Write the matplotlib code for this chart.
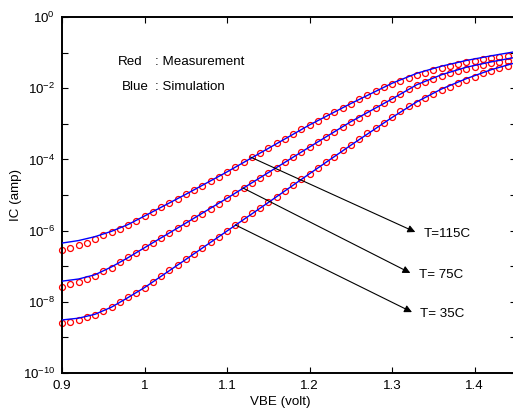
import numpy as np
import matplotlib
matplotlib.use("Agg")
from matplotlib import pyplot as plt

plt.rcParams['font.family'] = ['Liberation Sans', 'DejaVu Sans']
plt.rcParams['mathtext.fontset'] = 'custom'
plt.rcParams['mathtext.rm'] = 'Liberation Sans'
plt.rcParams['mathtext.it'] = 'Liberation Sans'

# measured VBE sweep (volt)
vbe_meas = np.round(np.arange(0.90, 1.4501, 0.01), 2)

# measured log10(IC), one list per temperature
logic_115 = [-6.54, -6.49, -6.40, -6.35, -6.24, -6.12, -6.04, -5.96, -5.84, -5.73,
             -5.59, -5.47, -5.35, -5.23, -5.11, -4.98, -4.86, -4.74, -4.60, -4.49,
             -4.35, -4.21, -4.07, -3.94, -3.81, -3.69, -3.55, -3.42, -3.29, -3.16,
             -3.03, -2.91, -2.79, -2.66, -2.55, -2.43, -2.31, -2.20, -2.09, -1.97,
             -1.87, -1.79, -1.70, -1.63, -1.56, -1.49, -1.42, -1.37, -1.32, -1.27,
             -1.23, -1.19, -1.16, -1.13, -1.10, -1.08]
logic_75 = [-7.58, -7.50, -7.44, -7.36, -7.27, -7.13, -7.05, -6.88, -6.74, -6.62,
            -6.47, -6.34, -6.20, -6.07, -5.93, -5.79, -5.66, -5.52, -5.38, -5.24,
            -5.09, -4.95, -4.81, -4.67, -4.51, -4.37, -4.24, -4.08, -3.94, -3.79,
            -3.65, -3.51, -3.38, -3.22, -3.08, -2.94, -2.83, -2.69, -2.55, -2.42,
            -2.31, -2.15, -2.01, -1.91, -1.82, -1.74, -1.66, -1.58, -1.52, -1.46,
            -1.40, -1.35, -1.30, -1.26, -1.23, -1.20]
logic_35 = [-8.60, -8.57, -8.51, -8.43, -8.37, -8.26, -8.15, -8.01, -7.87, -7.74,
            -7.60, -7.43, -7.27, -7.12, -6.97, -6.81, -6.66, -6.48, -6.31, -6.17,
            -6.01, -5.84, -5.68, -5.51, -5.36, -5.21, -5.05, -4.88, -4.72, -4.56,
            -4.40, -4.24, -4.06, -3.92, -3.74, -3.60, -3.44, -3.27, -3.13, -2.97,
            -2.82, -2.64, -2.50, -2.41, -2.27, -2.17, -2.05, -1.96, -1.86, -1.77,
            -1.68, -1.58, -1.51, -1.44, -1.38, -1.33]

# simulated log10(IC)
vbe_sim = [0.90, 0.92, 0.94, 0.96, 0.98, 1.00, 1.05, 1.10, 1.15, 1.20, 1.25,
           1.30, 1.33, 1.36, 1.39, 1.42, 1.45]
sim_115 = [-6.35, -6.28, -6.17, -6.02, -5.83, -5.59, -4.98, -4.35, -3.69, -3.03,
           -2.43, -1.86, -1.58, -1.38, -1.22, -1.09, -0.97]
sim_75 = [-7.42, -7.36, -7.24, -7.02, -6.76, -6.48, -5.79, -5.09, -4.37, -3.65,
          -2.94, -2.30, -1.90, -1.62, -1.41, -1.26, -1.13]
sim_35 = [-8.51, -8.46, -8.35, -8.15, -7.88, -7.60, -6.81, -6.01, -5.21, -4.40,
          -3.60, -2.82, -2.38, -2.02, -1.73, -1.48, -1.28]

# temperature callouts: label, curve point (VBE, log IC), arrow tip (VBE, log IC)
labels = ['T=115C', 'T= 75C', 'T= 35C']
arrow_from = [(1.128, -3.93), (1.119, -4.80), (1.110, -5.84)]
arrow_to = [(1.328, -6.04), (1.322, -7.19), (1.324, -8.29)]

FS = 9.6

fig = plt.figure(figsize=(5.13, 4.12), dpi=100)
ax = fig.add_axes([62 / 513, 39 / 412, 454 / 513, 356 / 412])

for meas in [logic_115, logic_75, logic_35]:
    ax.plot(vbe_meas, 10 ** np.array(meas), 'o', mfc='none', mec='red',
            ms=4.3, mew=0.9, zorder=2, clip_on=False)
for sim in [sim_115, sim_75, sim_35]:
    ax.plot(vbe_sim, 10 ** np.array(sim), '-', color='blue', lw=1.0, zorder=3)

ax.set_yscale('log')
ax.set_xlim(0.9, 1.45)
ax.set_ylim(1e-10, 1)

ax.set_xticks([0.9, 1.0, 1.1, 1.2, 1.3, 1.4])
ax.set_xticklabels(['0.9', '1', '1.1', '1.2', '1.3', '1.4'])
ax.set_yticks([10.0 ** k for k in range(-10, 1)])
ax.set_yticklabels([r'$10^{%d}$' % k if k % 2 == 0 else '' for k in range(-10, 1)])
ax.minorticks_off()
ax.tick_params(direction='in', length=4, width=0.8, top=True, right=True,
               labelsize=FS, pad=5)

for sp in ax.spines.values():
    sp.set_linewidth(1.4)

ax.set_xlabel('VBE (volt)', fontsize=FS)
ax.xaxis.set_label_coords(0.48, -0.065)
ax.set_ylabel('IC (amp)', fontsize=FS)
ax.yaxis.set_label_coords(-0.088, 0.5)

ax.text(0.968, 10 ** -1.26, 'Red', fontsize=FS, va='center')
ax.text(1.013, 10 ** -1.26, ': Measurement', fontsize=FS, va='center')
ax.text(0.972, 10 ** -1.97, 'Blue', fontsize=FS, va='center')
ax.text(1.013, 10 ** -1.97, ': Simulation', fontsize=FS, va='center')

for lab, (x0, y0), (x1, y1) in zip(labels, arrow_from, arrow_to):
    ax.annotate('', xy=(x1, 10 ** y1), xytext=(x0, 10 ** y0),
                arrowprops=dict(arrowstyle='-|>', color='black', lw=0.8,
                                mutation_scale=11, shrinkA=0, shrinkB=0))
    ax.text(x1 + 0.01, 10 ** (y1 - 0.05), lab, fontsize=FS, va='center')

fig.savefig('out.png', dpi=100)
